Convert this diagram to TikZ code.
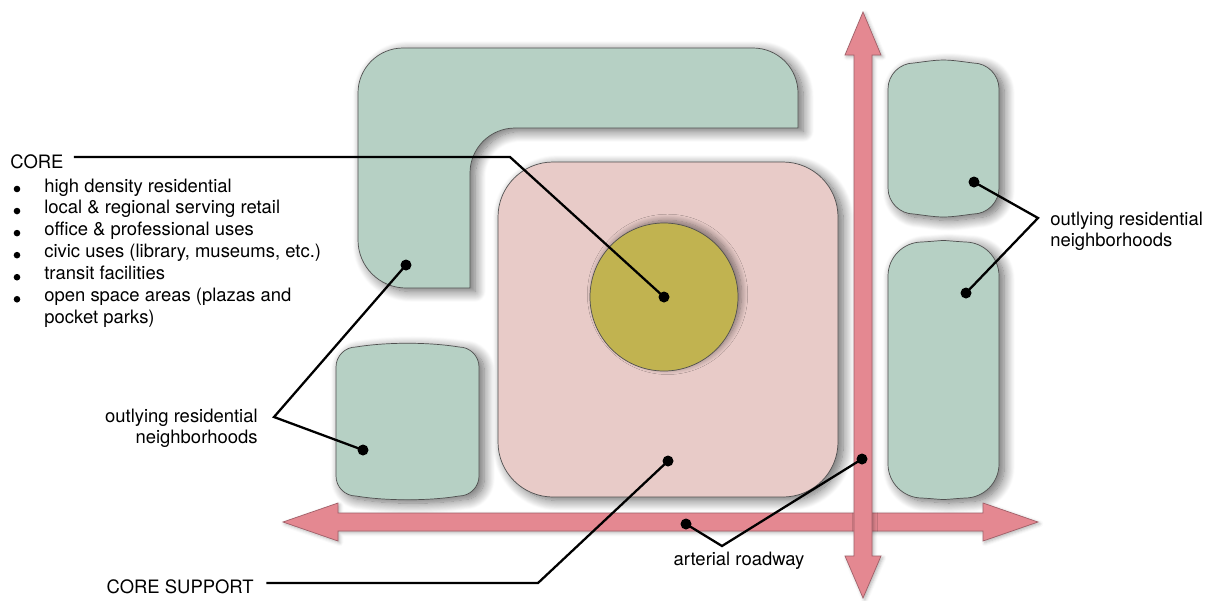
\documentclass[tikz,border=0pt]{standalone}
\usepackage{fontspec}
\setmainfont{TeX Gyre Heros}
\usetikzlibrary{shadows.blur, calc}
\definecolor{nbhdgreen}{RGB}{182,208,196}
\definecolor{corepink}{RGB}{232,203,200}
\definecolor{coreolive}{RGB}{193,179,80}
\definecolor{roadred}{RGB}{228,136,145}
\definecolor{roadedge}{RGB}{160,95,104}
\definecolor{edgegray}{RGB}{80,80,80}

\tikzset{
  softshadow/.style={blur shadow={shadow xshift=3pt, shadow yshift=-2pt, shadow blur radius=6pt, shadow blur steps=14, shadow opacity=60}},
  block/.style={draw=edgegray, line width=0.4pt, softshadow},
  road/.style={draw=roadedge, fill=roadred, line width=0.4pt, blur shadow={shadow xshift=1pt, shadow yshift=-1pt, shadow blur radius=2pt, shadow opacity=30}},
  leader/.style={line width=1.3pt, black},
  plantext/.style={inner sep=0pt, font=\fontsize{10.5}{12.2}\selectfont},
}

% neighbourhood block: x1 y1 x2 y2 corner bulge
\newcommand{\nbhd}[6]{%
  \path[block, fill=nbhdgreen] (#1,#2+#5) -- (#1,#4-#5)
    .. controls (#1,#4-0.45*#5) and (#1+0.45*#5,#4) .. (#1+#5,#4)
    .. controls (#1+#5+30,#4+#6) and (#3-#5-30,#4+#6) .. (#3-#5,#4)
    .. controls (#3-0.45*#5,#4) and (#3,#4-0.45*#5) .. (#3,#4-#5)
    -- (#3,#2+#5)
    .. controls (#3,#2+0.45*#5) and (#3-0.45*#5,#2) .. (#3-#5,#2)
    .. controls (#3-#5-30,#2-#6) and (#1+#5+30,#2-#6) .. (#1+#5,#2)
    .. controls (#1+0.45*#5,#2) and (#1,#2+0.45*#5) .. (#1,#2+#5) -- cycle;}

\begin{document}
\begin{tikzpicture}[x=0.02cm, y=-0.02cm]
  \useasboundingbox (0,0) rectangle (1211,600);

  % blocks
  \path[block, fill=nbhdgreen] (358,93) -- (358,240) arc[start angle=180, end angle=90, radius=48]
    -- (470,288) -- (470,173) arc[start angle=180, end angle=270, radius=45]
    -- (798,128) -- (798,93) arc[start angle=0, end angle=-90, radius=45]
    -- (403,48) arc[start angle=270, end angle=180, radius=45] -- cycle;
  \path[block, fill=corepink, rounded corners=1.1cm] (498,162) rectangle (838,497);
  \path[draw=edgegray, line width=0.4pt, fill=coreolive, blur shadow={shadow xshift=2pt, shadow yshift=1.5pt, shadow blur radius=3.5pt, shadow blur steps=10, shadow opacity=45}] (664,297) circle[radius=74];
  \nbhd{336}{347}{479}{496}{20}{5}
  \nbhd{888}{63}{999}{214}{26}{4}
  \nbhd{888}{242}{999}{498}{34}{2}

  % roads
  \path[road] (283,522) -- (338,503) -- (338,513) -- (983,513) -- (983,503) -- (1038,522)
    -- (983,541) -- (983,531) -- (338,531) -- (338,541) -- cycle;
  \path[road] (863,12) -- (881,55) -- (872,55) -- (872,556) -- (881,556) -- (863,598)
    -- (845,556) -- (854,556) -- (854,55) -- (845,55) -- cycle;

  \coordinate (coredot) at (664,297);
  \coordinate (supportdot) at (668,461);
  \coordinate (lshapedot) at (406,265);
  \coordinate (lowboxdot) at (363,450);
  \coordinate (upboxdot) at (974,182);
  \coordinate (tallboxdot) at (966,293);
  \coordinate (roaddot) at (686,524);
  \coordinate (avedot) at (862,459);
  \coordinate (corebend) at (510,157);
  \coordinate (supportbend) at (538,583);
  \coordinate (westfork) at (274,417);
  \coordinate (eastfork) at (1038,218);
  \coordinate (roadfork) at (722,546);

  % labels
  \node[plantext, inner xsep=5.7pt, anchor=base west] (corelbl) at (0,168) {CORE};
  \node[plantext, font=\fontsize{10.5}{12.5}\selectfont, anchor=base west] (corelist) at (44,192) {%
    \begin{tabular}[t]{@{}l@{}}
      high density residential\\
      local \& regional serving retail\\
      office \& professional uses\\
      civic uses (library, museums, etc.)\\
      transit facilities\\
      open space areas (plazas and\\
      pocket parks)
    \end{tabular}};
  \foreach \y in {0,...,5}
    \fill ($(corelist.base west)+(-27,-3+22.05*\y)$) circle[radius=3.3];
  \node[plantext, align=right, anchor=east] (westlbl) at (258,428) {outlying residential\\neighborhoods};
  \node[plantext, align=left, anchor=west] (eastlbl) at (1050,231) {outlying residential\\neighborhoods};
  \node[plantext, inner xsep=7pt, anchor=base west] (supportlbl) at (94,593) {CORE SUPPORT};
  \node[plantext, anchor=base] (roadlbl) at (739,565) {arterial roadway};

  % leaders
  \draw[leader] (corelbl.east |- corebend) -- (corebend) -- (coredot);
  \draw[leader] (supportlbl.east |- supportbend) -- (supportbend) -- (supportdot);
  \draw[leader] (lshapedot) -- (westfork) -- (lowboxdot);
  \draw[leader] (upboxdot) -- (eastfork) -- (tallboxdot);
  \draw[leader] (roaddot) -- (roadfork) -- (avedot);
  \foreach \d in {coredot, supportdot, lshapedot, lowboxdot, upboxdot, tallboxdot, roaddot, avedot}
    \fill (\d) circle[radius=5.5];
\end{tikzpicture}
\end{document}
